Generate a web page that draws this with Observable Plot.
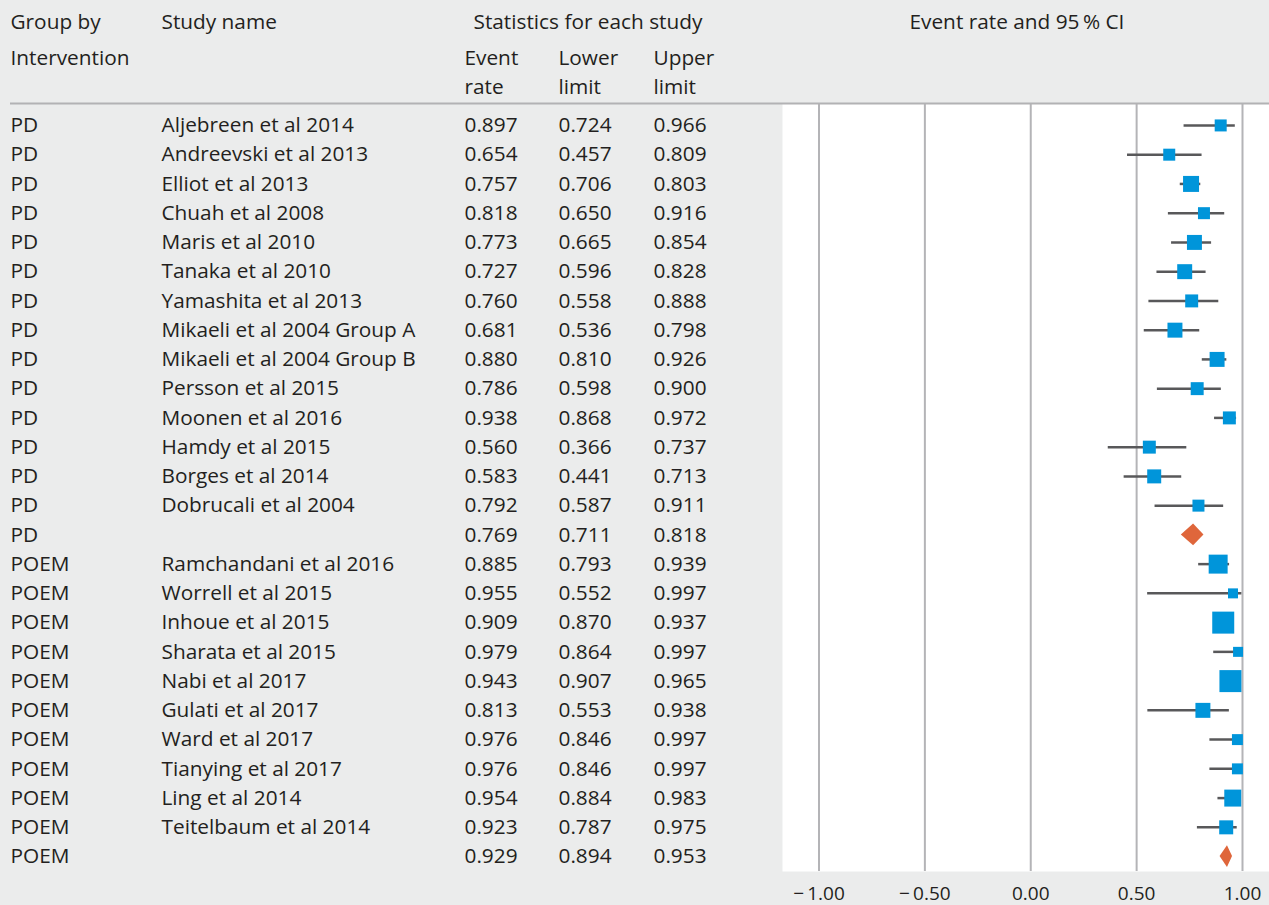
<!DOCTYPE html>
<html>
<head>
<meta charset="utf-8">
<script src="https://cdn.jsdelivr.net/npm/d3@7"></script>
<script src="https://cdn.jsdelivr.net/npm/@observablehq/plot@0.6"></script>
<style>
  html, body { margin: 0; padding: 0; background: #ebecec; }
  #chart { display: flex; width: 1269px; height: 905px; background: #ebecec; }
  #chart svg { flex: none; }
</style>
</head>
<body>
<div id="chart"></div>
<script>
// ---------------- data ----------------
const groups = [
  "PD","PD","PD","PD","PD","PD","PD","PD","PD","PD","PD","PD","PD","PD","PD",
  "POEM","POEM","POEM","POEM","POEM","POEM","POEM","POEM","POEM","POEM","POEM"
];
const studyNames = [
  "Aljebreen et al 2014","Andreevski et al 2013","Elliot et al 2013","Chuah et al 2008",
  "Maris et al 2010","Tanaka et al 2010","Yamashita et al 2013","Mikaeli et al 2004 Group A",
  "Mikaeli et al 2004 Group B","Persson et al 2015","Moonen et al 2016","Hamdy et al 2015",
  "Borges et al 2014","Dobrucali et al 2004","",
  "Ramchandani et al 2016","Worrell et al 2015","Inhoue et al 2015","Sharata et al 2015",
  "Nabi et al 2017","Gulati et al 2017","Ward et al 2017","Tianying et al 2017",
  "Ling et al 2014","Teitelbaum et al 2014",""
];
const eventRate = [
  0.897,0.654,0.757,0.818,0.773,0.727,0.760,0.681,0.880,0.786,0.938,0.560,0.583,0.792,0.769,
  0.885,0.955,0.909,0.979,0.943,0.813,0.976,0.976,0.954,0.923,0.929
];
const lowerLimit = [
  0.724,0.457,0.706,0.650,0.665,0.596,0.558,0.536,0.810,0.598,0.868,0.366,0.441,0.587,0.711,
  0.793,0.552,0.870,0.864,0.907,0.553,0.846,0.846,0.884,0.787,0.894
];
const upperLimit = [
  0.966,0.809,0.803,0.916,0.854,0.828,0.888,0.798,0.926,0.900,0.972,0.737,0.713,0.911,0.818,
  0.939,0.997,0.937,0.997,0.965,0.938,0.997,0.997,0.983,0.975,0.953
];
// relative study weights (square area); null = pooled summary row
const weights = [
  3.6,3.6,6.4,3.6,5.6,5.6,4.2,5.6,5.6,4.2,4.2,4.2,4.9,3.6,null,
  9.0,2.5,12.1,2.5,12.1,5.6,3.0,3.0,7.2,4.9,null
];
const xTicks = [-1, -0.5, 0, 0.5, 1];
const headerTexts = {
  group: ["Group by", "Intervention"],
  study: "Study name",
  stats: "Statistics for each study",
  rate: ["Event", "rate"],
  lower: ["Lower", "limit"],
  upper: ["Upper", "limit"],
  forest: "Event rate and 95\u2009% CI"
};

// ---------------- layout ----------------
const W = 1269, H = 905, splitX = 782;
const marginTop = 103, marginBottom = 34;
const yDomain = [-0.75, 25.51];
const col = {group: 10, study: 161, rate: 464, lower: 558, upper: 653, stats: 473};
const fontFamily = '"Open Sans", sans-serif';
const textColor = "#231f20";
const fs = 20.8;
const lineGray = "#b2b2b4";
const headY = {first: -80.7, second: -44.7, third: -16};

const rows = studyNames.map((name, i) => ({
  row: i, group: groups[i], name,
  rate: eventRate[i], lower: lowerLimit[i], upper: upperLimit[i], weight: weights[i]
}));
const studyRows = rows.filter(d => d.weight != null);
const summaryRows = rows.filter(d => d.weight == null);
const dh = 0.37; // diamond half height in row units
const diamondPts = summaryRows.flatMap(d => [
  {g: d.group, y: d.row - dh, x1: d.rate, x2: d.rate},
  {g: d.group, y: d.row, x1: d.lower, x2: d.upper},
  {g: d.group, y: d.row + dh, x1: d.rate, x2: d.rate}
]);
const fmt = v => v.toFixed(3);

const txt = (data, opts) => Plot.text(data, {
  textAnchor: "start", lineAnchor: "middle", fontSize: fs, fill: textColor, ...opts
});

// ---------------- table ----------------
const left = Plot.plot({
  width: splitX, height: H,
  marginTop, marginBottom, marginLeft: 10, marginRight: 0,
  x: {type: "identity", axis: null},
  y: {domain: yDomain, reverse: true, axis: null},
  style: {fontFamily, color: textColor, background: "transparent", overflow: "visible"},
  marks: [
    Plot.ruleY([yDomain[0]], {stroke: lineGray, strokeWidth: 2}),
    txt(rows, {x: col.group, y: "row", text: "group"}),
    txt(rows, {x: col.study, y: "row", text: "name"}),
    txt(rows, {x: col.rate, y: "row", text: d => fmt(d.rate)}),
    txt(rows, {x: col.lower, y: "row", text: d => fmt(d.lower)}),
    txt(rows, {x: col.upper, y: "row", text: d => fmt(d.upper)}),
    // headers
    txt([headerTexts.group[0]], {x: col.group, frameAnchor: "top", dy: headY.first, text: d => d}),
    txt([headerTexts.group[1]], {x: col.group, frameAnchor: "top", dy: headY.second, text: d => d}),
    txt([headerTexts.study], {x: col.study, frameAnchor: "top", dy: headY.first, text: d => d}),
    txt([headerTexts.stats], {x: col.stats, frameAnchor: "top", dy: headY.first, text: d => d}),
    txt([headerTexts.rate[0]], {x: col.rate, frameAnchor: "top", dy: headY.second, text: d => d}),
    txt([headerTexts.rate[1]], {x: col.rate, frameAnchor: "top", dy: headY.third, text: d => d}),
    txt([headerTexts.lower[0]], {x: col.lower, frameAnchor: "top", dy: headY.second, text: d => d}),
    txt([headerTexts.lower[1]], {x: col.lower, frameAnchor: "top", dy: headY.third, text: d => d}),
    txt([headerTexts.upper[0]], {x: col.upper, frameAnchor: "top", dy: headY.second, text: d => d}),
    txt([headerTexts.upper[1]], {x: col.upper, frameAnchor: "top", dy: headY.third, text: d => d})
  ]
});

// ---------------- forest ----------------
const tickFormat = d => (d < 0 ? "\u2212\u2009" : "") + Math.abs(d).toFixed(2);
const right = Plot.plot({
  width: W - splitX, height: H,
  marginTop, marginBottom, marginLeft: 0, marginRight: 0,
  x: {domain: [-1.1724, 1.1275], axis: null},
  y: {domain: yDomain, reverse: true, axis: null},
  r: {type: "sqrt", domain: [0, d3.max(weights)], range: [0, 22 / Math.sqrt(Math.PI)]},
  style: {fontFamily, color: textColor, background: "transparent", overflow: "visible"},
  marks: [
    Plot.frame({fill: "white"}),
    Plot.ruleX(xTicks, {stroke: "#b4b4b7", strokeWidth: 2}),
    Plot.ruleY([yDomain[0]], {stroke: lineGray, strokeWidth: 2}),
    Plot.ruleY(studyRows, {y: "row", x1: "lower", x2: "upper", stroke: "#58585a", strokeWidth: 2.5}),
    Plot.dot(studyRows, {x: "rate", y: "row", r: "weight", symbol: "square", fill: "#0095da"}),
    Plot.areaX(diamondPts, {y: "y", x1: "x1", x2: "x2", z: "g", fill: "#df663b"}),
    Plot.axisX(xTicks, {anchor: "bottom", tickSize: 0, tickPadding: 15, tickFormat, fontSize: 19, fill: textColor}),
    txt([headerTexts.forest], {frameAnchor: "top-left", dx: 127, dy: headY.first, text: d => d})
  ]
});

const chart = document.getElementById("chart");
chart.append(left, right);
</script>
</body>
</html>
